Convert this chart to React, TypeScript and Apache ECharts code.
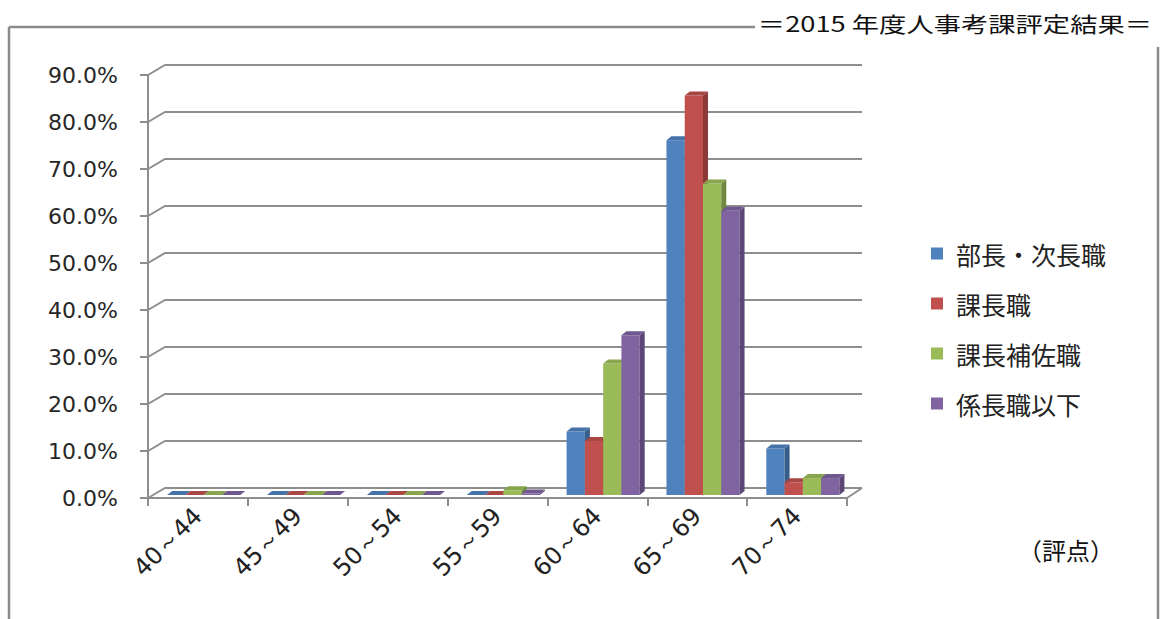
import React, { useEffect, useRef } from "react";
import * as echarts from "echarts";

const categories = ["40～44", "45～49", "50～54", "55～59", "60～64", "65～69", "70～74"];
const seriesNames = ["部長・次長職", "課長職", "課長補佐職", "係長職以下"];
const buchoJicho = [0, 0, 0, 0, 13.5, 75.5, 9.9];
const kacho = [0, 0, 0, 0, 11.5, 85.0, 2.7];
const kachoHosa = [0, 0, 0, 1.0, 28.0, 66.3, 3.6];
const kakaricho = [0, 0, 0, 0.3, 34.0, 60.5, 3.6];
const yTicks = [0, 10, 20, 30, 40, 50, 60, 70, 80, 90];
const titleText = "＝2015 年度人事考課評定結果＝";
const xAxisName = "（評点）";

const seriesValues = [buchoJicho, kacho, kachoHosa, kakaricho];
const frontColors = ["#4F81BD", "#C0504D", "#9BBB59", "#8064A2"];
const topColors = ["#4572A9", "#A84744", "#88A64D", "#6F5790"];
const sideColors = ["#385D8A", "#8B3A38", "#71893F", "#5C4776"];

const GRID_COLOR = "#8e8e8e";
const DEPTH_X = 17;
const DEPTH_Y = 10;

export default function App() {
  const ref = useRef<HTMLDivElement>(null);

  useEffect(() => {
    if (!ref.current) return;
    const chart = echarts.init(ref.current, undefined, { renderer: "svg" });

    const wallSeries: any = {
      type: "custom",
      name: "wall",
      silent: true,
      z: 1,
      data: yTicks.map((t) => [0, t]),
      encode: { x: 0, y: 1 },
      renderItem: (params: any, api: any) => {
        const v = api.value(1);
        const band = api.size([1, 0])[0];
        const p = api.coord([0, v]);
        const pr = api.coord([categories.length - 1, v]);
        const left = p[0] - band / 2;
        const right = pr[0] + band / 2;
        const y = p[1];
        const children: any[] = [
          {
            type: "polyline",
            shape: {
              points: [
                [left, y],
                [left + DEPTH_X, y - DEPTH_Y],
                [right + DEPTH_X - 2, y - DEPTH_Y],
              ],
            },
            style: { stroke: GRID_COLOR, lineWidth: 2, fill: "none" },
          },
        ];
        if (v === 0) {
          children.push({
            type: "polyline",
            shape: {
              points: [
                [right, y],
                [right + DEPTH_X - 2, y - DEPTH_Y],
              ],
            },
            style: { stroke: GRID_COLOR, lineWidth: 2, fill: "none" },
          });
        }
        return { type: "group", children };
      },
    };

    const barSeries: any[] = seriesNames.map((name, si) => ({
      type: "custom",
      name,
      z: 2 + si,
      itemStyle: { color: frontColors[si] },
      data: seriesValues[si].map((v, i) => [i, v]),
      encode: { x: 0, y: 1 },
      renderItem: (params: any, api: any) => {
        const ci = api.value(0);
        const v = api.value(1);
        const top = api.coord([ci, v]);
        const bot = api.coord([ci, 0]);
        const band = api.size([1, 0])[0];
        const bw = band * 0.183;
        const x = top[0] - 2 * bw + band * 0.058 + si * bw;
        const yT = top[1] - 3;
        const yB = bot[1] - 3;
        const dx = 5;
        const dy = 4;
        return {
          type: "group",
          children: [
            {
              type: "rect",
              shape: { x, y: yT, width: bw, height: Math.max(0, yB - yT) },
              style: { fill: frontColors[si] },
            },
            {
              type: "polygon",
              shape: {
                points: [
                  [x + bw, yT],
                  [x + bw + dx, yT - dy],
                  [x + bw + dx, yB - dy],
                  [x + bw, yB],
                ],
              },
              style: { fill: sideColors[si] },
            },
            {
              type: "polygon",
              shape: {
                points: [
                  [x, yT],
                  [x + dx, yT - dy],
                  [x + bw + dx, yT - dy],
                  [x + bw, yT],
                ],
              },
              style: { fill: topColors[si] },
            },
          ],
        };
      },
    }));

    chart.setOption({
      animation: false,
      backgroundColor: "#ffffff",
      grid: { left: 148, right: 315, top: 75, bottom: 121, containLabel: false },
      xAxis: {
        type: "category",
        data: categories,
        boundaryGap: true,
        axisLine: { show: true, lineStyle: { color: GRID_COLOR, width: 2 } },
        axisTick: { show: true, length: 8, lineStyle: { color: GRID_COLOR, width: 2 } },
        splitLine: { show: false },
        axisLabel: {
          rotate: 45,
          margin: 14,
          fontSize: 24,
          fontFamily: "DejaVu Sans",
          color: "#222",
        },
      },
      yAxis: {
        type: "value",
        min: 0,
        max: 90,
        interval: 10,
        axisLine: { show: true, lineStyle: { color: GRID_COLOR, width: 2 } },
        axisTick: { show: true, length: 8, lineStyle: { color: GRID_COLOR, width: 2 } },
        splitLine: { show: false },
        axisLabel: {
          margin: 30,
          fontSize: 22,
          fontFamily: "DejaVu Sans",
          color: "#262626",
          formatter: (v: number) => v.toFixed(1) + "%",
        },
      },
      legend: {
        data: seriesNames,
        orient: "vertical",
        left: 926,
        top: 236,
        icon: "rect",
        itemWidth: 12,
        itemHeight: 12,
        itemGap: 25,
        textStyle: {
          fontSize: 25,
          fontFamily: "Noto Sans CJK JP",
          color: "#222",
          padding: [0, 0, 0, 8],
        },
      },
      graphic: [
        {
          type: "line",
          shape: { x1: 9, y1: 27, x2: 755, y2: 27 },
          style: { stroke: "#8a8a8a", lineWidth: 2.5 },
        },
        {
          type: "line",
          shape: { x1: 9, y1: 27, x2: 9, y2: 619 },
          style: { stroke: "#8a8a8a", lineWidth: 2.5 },
        },
        {
          type: "line",
          shape: { x1: 1158, y1: 47, x2: 1158, y2: 619 },
          style: { stroke: "#8a8a8a", lineWidth: 2.5 },
        },
        {
          type: "text",
          x: 1152,
          y: 23,
          scaleX: 1.3,
          style: {
            text: titleText,
            align: "right",
            verticalAlign: "middle",
            fontSize: 21,
            fontFamily: "Noto Sans CJK JP",
            fill: "#111",
          },
        },
        {
          type: "text",
          x: 1018,
          y: 549,
          style: {
            text: xAxisName,
            align: "left",
            verticalAlign: "middle",
            fontSize: 24,
            fontFamily: "Noto Sans CJK JP",
            fill: "#111",
          },
        },
      ],
      series: [wallSeries, ...barSeries],
    });

    return () => chart.dispose();
  }, []);

  return (
    <div
      ref={ref}
      style={{ position: "fixed", left: 0, top: 0, width: 1162, height: 619, background: "#fff" }}
    />
  );
}
